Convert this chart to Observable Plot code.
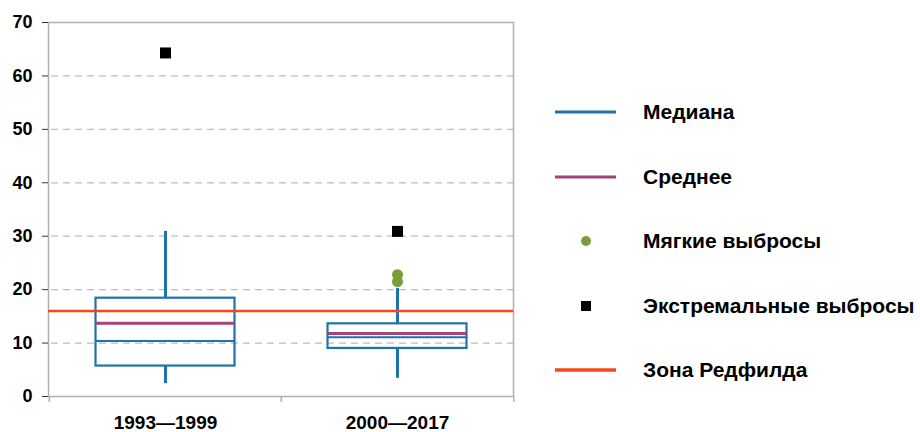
<!DOCTYPE html>
<html>
<head>
<meta charset="utf-8">
<script src="https://cdn.jsdelivr.net/npm/d3@7"></script>
<script src="https://cdn.jsdelivr.net/npm/@observablehq/plot@0.6"></script>
<style>
  html, body { margin: 0; padding: 0; background: #fff; }
  #chart { position: relative; width: 920px; height: 432px; font-family: "Liberation Sans", Arial, sans-serif; }
  #chart svg text { font-weight: bold; fill: #000; }
  #chart svg g[aria-label="y-axis tick label"], #chart svg g[aria-label="y-axis tick label"] text { font-size: 18px; }
  #chart svg g[aria-label="x-axis tick label"], #chart svg g[aria-label="x-axis tick label"] text { font-size: 19px; }
  #legend { position: absolute; left: 555px; top: 80px; }
  .item { display: flex; align-items: center; height: 64.5px; }
  .item svg { flex: none; }
  .item span { margin-left: 27px; font-size: 21px; font-weight: bold; color: #000; white-space: nowrap; }
</style>
</head>
<body>
<div id="chart"><div id="legend"></div></div>
<script>
// N:P ratio by period — box statistics
const categories = ["1993—1999", "2000—2017"];
const q1 = [5.7, 9.0];
const q3 = [18.4, 13.6];
const median = [10.4, 11.1];
const mean = [13.7, 11.8];
const whiskerLow = [2.4, 3.4];
const whiskerHigh = [30.9, 20.2];

// outliers
const mildPeriods = ["2000—2017", "2000—2017"];
const mildValues = [21.5, 22.8];
const extremePeriods = ["1993—1999", "2000—2017"];
const extremeValues = [64.3, 30.9];

// Redfield ratio
const redfield = 16;

const yTicks = [0, 10, 20, 30, 40, 50, 60, 70];
const gridTicks = [10, 20, 30, 40, 50, 60];

const legendLabels = ["Медиана", "Среднее", "Мягкие выбросы", "Экстремальные выбросы", "Зона Редфилда"];
const legendKinds = ["line", "line", "dot", "square", "line"];

const colors = {
  box: "#1f72aa",
  mean: "#a3437b",
  mild: "#7a9e35",
  extreme: "#000000",
  redfield: "#f4471b",
  grid: "#bdbdbd",
  frame: "#b0b0b0"
};
const legendColors = [colors.box, colors.mean, colors.mild, colors.extreme, colors.redfield];

const stats = categories.map((c, i) => ({
  period: c, q1: q1[i], q3: q3[i], median: median[i], mean: mean[i],
  lo: whiskerLow[i], hi: whiskerHigh[i]
}));
const mild = mildPeriods.map((p, i) => ({period: p, value: mildValues[i]}));
const extreme = extremePeriods.map((p, i) => ({period: p, value: extremeValues[i]}));

const W = 530, H = 432, mL = 48, mR = 17, mT = 22, mB = 36;
const band = (W - mL - mR) / categories.length;
const boxInset = band * 0.2;

const plot = Plot.plot({
  width: W,
  height: H,
  marginLeft: mL,
  marginRight: mR,
  marginTop: mT,
  marginBottom: mB,
  style: {fontFamily: "'Liberation Sans', Arial, sans-serif", fontWeight: "bold", color: "#000", background: "transparent"},
  x: {type: "band", domain: categories, padding: 0, axis: null},
  y: {domain: [0, 70], axis: null},
  marks: [
    Plot.ruleY(gridTicks, {stroke: colors.grid, strokeWidth: 1.3, strokeDasharray: "7,5", insetLeft: 3}),
    Plot.frame({stroke: colors.frame, strokeWidth: 1.5}),
    Plot.axisY({ticks: yTicks, tickSize: 6, tickPadding: 10, fontSize: 18, fontWeight: "bold", stroke: "#333", fill: "#000", label: null}),
    Plot.axisX({tickSize: 0, tickPadding: 19, fontSize: 19, fontWeight: "bold", fill: "#000", label: null}),
    // category boundary ticks under the x axis
    Plot.ruleX(categories, {x: d => d, dx: -band / 2, y1: 0, y2: 0, insetBottom: -6, stroke: colors.frame, strokeWidth: 1.5}),
    Plot.ruleX(categories.slice(-1), {x: d => d, dx: band / 2, y1: 0, y2: 0, insetBottom: -6, stroke: colors.frame, strokeWidth: 1.5}),
    // whiskers
    Plot.ruleX(stats, {x: "period", y1: "q3", y2: "hi", stroke: colors.box, strokeWidth: 3}),
    Plot.ruleX(stats, {x: "period", y1: "lo", y2: "q1", stroke: colors.box, strokeWidth: 3}),
    // boxes
    Plot.barY(stats, {x: "period", y1: "q1", y2: "q3", fill: "none", stroke: colors.box, strokeWidth: 2.2, insetLeft: boxInset, insetRight: boxInset}),
    Plot.tickY(stats, {x: "period", y: "median", stroke: colors.box, strokeWidth: 2, insetLeft: boxInset, insetRight: boxInset}),
    Plot.tickY(stats, {x: "period", y: "mean", stroke: colors.mean, strokeWidth: 3, insetLeft: boxInset, insetRight: boxInset}),
    // Redfield ratio
    Plot.ruleY([redfield], {stroke: colors.redfield, strokeWidth: 2.5}),
    // outliers
    Plot.dot(mild, {x: "period", y: "value", r: 5.5, fill: colors.mild, stroke: "none"}),
    Plot.dot(extreme, {x: "period", y: "value", symbol: "square", r: 6.2, fill: colors.extreme, stroke: "none"})
  ]
});
document.getElementById("chart").prepend(plot);

// legend
const legend = d3.select("#legend");
legendLabels.forEach((label, i) => {
  const row = legend.append("div").attr("class", "item");
  const svg = row.append("svg").attr("width", 61).attr("height", 14);
  const kind = legendKinds[i];
  if (kind === "line") {
    svg.append("line").attr("x1", 0).attr("x2", 61).attr("y1", 7).attr("y2", 7)
      .attr("stroke", legendColors[i]).attr("stroke-width", i === 4 ? 3.5 : 3);
  } else if (kind === "dot") {
    svg.append("circle").attr("cx", 31).attr("cy", 7).attr("r", 5).attr("fill", legendColors[i]);
  } else {
    svg.append("rect").attr("x", 26).attr("y", 2).attr("width", 10).attr("height", 10).attr("fill", legendColors[i]);
  }
  row.append("span").text(label);
});
</script>
</body>
</html>
